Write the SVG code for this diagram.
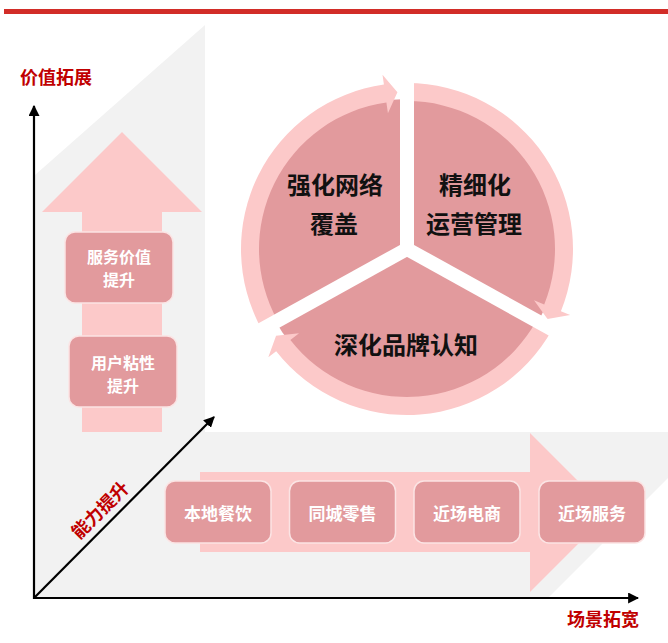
<svg xmlns="http://www.w3.org/2000/svg" width="668" height="643" viewBox="0 0 668 643">
<style>
.t{font-family:"Noto Sans CJK SC","Noto Sans CJK JP",sans-serif;font-weight:bold;text-anchor:middle;dominant-baseline:central}
.ax{fill:#c00000;font-size:18px}
.bx{fill:#e29a9d;stroke:#fbe4e4;stroke-width:1.5}
.bt{fill:#ffffff;font-size:17px}
.bt2{fill:#ffffff;font-size:16px}
.ct{fill:#111111;font-size:24px}
.lp{fill:#fcc9c9}
.ln{stroke:#000;stroke-width:2.2;fill:none;marker-end:url(#ah)}
.gap{stroke:#fff;stroke-width:14;fill:none}
</style>
<defs>
<marker id="ah" viewBox="0 0 10 10" refX="9" refY="5" markerWidth="5" markerHeight="5" orient="auto" markerUnits="strokeWidth">
<path d="M0,0 L10,5 L0,10 z" fill="#000"/>
</marker>
</defs>
<rect x="4" y="9" width="664" height="5" fill="#d22d28"/>
<polygon points="35,175 205,25 205,432 668,432 668,478 548,598 35,598" fill="#f2f2f2"/>
<g id="up-arrow">
<polygon class="lp" points="122,132 202,212 162,212 162,432 82,432 82,212 42,212"/>
</g>
<g id="right-arrow">
<polygon class="lp" points="200,472 530,472 530,433 609.5,512.5 530,592 530,552 200,552"/>
</g>
<g id="box-service">
<rect class="bx" x="65" y="232" width="108" height="71" rx="10"/>
<text class="t bt2" x="119" y="256">服务价值</text>
<text class="t bt2" x="119" y="279">提升</text>
</g>
<g id="box-user">
<rect class="bx" x="69" y="336" width="108" height="71" rx="10"/>
<text class="t bt2" x="123" y="362">用户粘性</text>
<text class="t bt2" x="123" y="385">提升</text>
</g>
<g id="box-food">
<rect class="bx" x="165" y="481" width="106" height="62" rx="10"/>
<text class="t bt" x="218" y="512">本地餐饮</text>
</g>
<g id="box-retail">
<rect class="bx" x="289.5" y="481" width="106" height="62" rx="10"/>
<text class="t bt" x="342.5" y="512">同城零售</text>
</g>
<g id="box-ecom">
<rect class="bx" x="414" y="481" width="106" height="62" rx="10"/>
<text class="t bt" x="467" y="512">近场电商</text>
</g>
<g id="box-serv">
<rect class="bx" x="539" y="481" width="106" height="62" rx="10"/>
<text class="t bt" x="592" y="512">近场服务</text>
</g>
<g id="cycle">
<circle cx="407" cy="249" r="150" fill="#e29a9d"/>
<path class="lp" d="M261.81,329.48 A166,166 0 0 1 383.90,84.62 L382.51,74.71 L397.42,92.29 L387.93,113.33 L386.40,102.44 A148,148 0 0 0 277.56,320.75 Z"/>
<path class="lp" d="M407,83 A166,166 0 0 1 560.91,311.19 L570.18,314.93 L547.50,319.05 L534.02,300.32 L544.22,304.44 A148,148 0 0 0 407,101 Z"/>
<path class="lp" d="M552.19,329.48 A166,166 0 0 1 276.19,351.20 L268.31,357.36 L276.08,335.65 L299.04,333.35 L290.37,340.12 A148,148 0 0 0 536.44,320.75 Z"/>
<line class="gap" x1="407" y1="249" x2="407" y2="64"/>
<line class="gap" x1="407" y1="249" x2="568.8" y2="338.69"/>
<line class="gap" x1="407" y1="249" x2="245.2" y2="338.69"/>
</g>
<g id="seg-network">
<text class="t ct" x="335" y="183">强化网络</text>
<text class="t ct" x="334" y="222">覆盖</text>
</g>
<g id="seg-ops">
<text class="t ct" x="475" y="183">精细化</text>
<text class="t ct" x="474" y="222">运营管理</text>
</g>
<g id="seg-brand">
<text class="t ct" x="406" y="343">深化品牌认知</text>
</g>
<g id="connectors">
<line class="ln" x1="34" y1="599" x2="34" y2="106"/>
<line class="ln" x1="33" y1="598" x2="638" y2="598"/>
<line class="ln" x1="34" y1="598" x2="214" y2="417"/>
</g>
<g id="labels">
<text class="t ax" x="56" y="76">价值拓展</text>
<text class="t ax" x="603" y="618">场景拓宽</text>
<text class="t ax" x="99" y="509" transform="rotate(-45 99 509)">能力提升</text>
</g>
</svg>
